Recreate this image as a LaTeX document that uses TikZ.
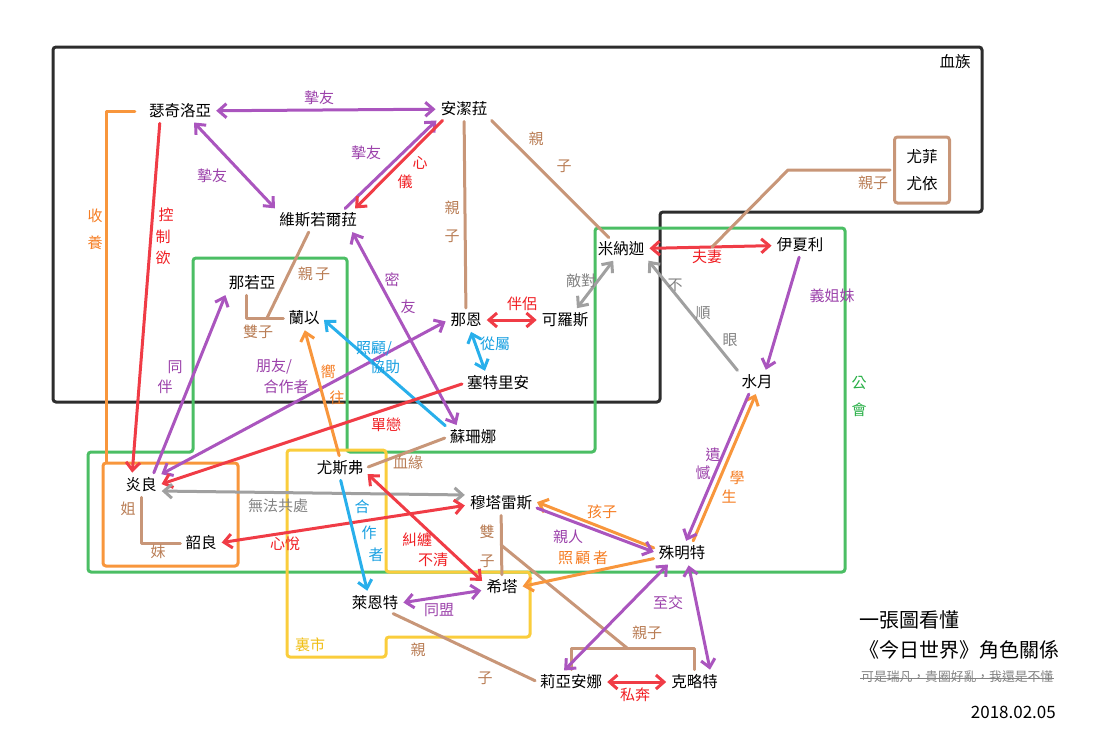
\documentclass[tikz,border=0pt]{standalone}
\usepackage{fontspec}
\setmainfont{Noto Sans CJK TC}
\usepackage{tikz}
\usepackage{xcolor}
\usetikzlibrary{arrows.meta, positioning, calc}

\definecolor{purpleL}{RGB}{170,85,190}
\definecolor{purpleT}{RGB}{155,65,170}
\definecolor{redL}{RGB}{240,60,70}
\definecolor{redT}{RGB}{240,30,35}
\definecolor{orangeL}{RGB}{248,150,60}
\definecolor{orangeT}{RGB}{245,125,35}
\definecolor{brownL}{RGB}{200,150,120}
\definecolor{brownT}{RGB}{185,125,85}
\definecolor{blueL}{RGB}{40,175,235}
\definecolor{blueT}{RGB}{25,160,225}
\definecolor{grayL}{RGB}{160,160,160}
\definecolor{grayT}{RGB}{130,130,130}
\definecolor{greenL}{RGB}{75,190,100}
\definecolor{greenT}{RGB}{40,175,70}
\definecolor{yellowL}{RGB}{250,205,60}
\definecolor{yellowT}{RGB}{240,190,20}
\definecolor{blackL}{RGB}{45,45,45}

\begin{document}
\begin{tikzpicture}[
    x=1pt, y=-1pt,
    font=\fontsize{15.5}{18}\selectfont,
    >={Straight Barb[length=8pt, width=14pt]},
    person/.style={inner sep=2pt},
    lbl/.style={inner sep=1pt, text=#1, font=\fontsize{15}{18}\selectfont},
    link/.style={line width=3pt, line cap=round, line join=round, shorten <=3pt, shorten >=3pt},
    purpleline/.style={link, draw=purpleL},
    redline/.style={link, draw=redL},
    orangeline/.style={link, draw=orangeL},
    brownline/.style={link, draw=brownL},
    blueline/.style={link, draw=blueL},
    grayline/.style={link, draw=grayL},
    region/.style={line width=3pt, rounded corners=3pt},
    title/.style={inner sep=0pt, anchor=west, font=\fontsize{20}{24}\selectfont},
    strike/.style={path picture={\draw[grayT, line width=0.8pt]
        ([yshift=-1pt]path picture bounding box.west) -- ([yshift=-1pt]path picture bounding box.east);}}
]
\useasboundingbox (0,0) rectangle (1102,734);

% 1. REGIONS
\draw[region, draw=blackL] (53,47) -- (982,47) -- (982,212) -- (660,212) -- (660,402) -- (53,402) -- cycle;
\draw[region, draw=greenL] (88,452) -- (193,452) -- (193,258) -- (347,258) -- (347,452) -- (595,452)
    -- (595,228) -- (845,228) -- (845,572) -- (88,572) -- cycle;
\draw[region, draw=yellowL] (287,450) -- (386,450) -- (386,572) -- (530,572) -- (530,637)
    -- (386,637) -- (386,657) -- (287,657) -- cycle;
\node[draw=orangeL, line width=3pt, rounded corners=3pt, minimum width=135pt, minimum height=103pt] (sibbox) at (170.5,514.5) {};

\node[inner sep=0pt] (tBlood) at (955,62) {血族};
\node[lbl=greenT] (tGuild1) at (859,383) {公};
\node[lbl=greenT] (tGuild2) at (859,410) {會};
\node[lbl=yellowT] (tMarket) at (310,645) {裏市};

% 2. NODES
\node[person] (seqi) at (180,111) {瑟奇洛亞};
\node[person] (anjie) at (464,109) {安潔菈};
\node[person] (weisi) at (318,220) {維斯若爾菈};
\node[person] (naruo) at (252,283) {那若亞};
\node[person] (lanyi) at (304,318) {蘭以};
\node[person] (naen) at (466,320) {那恩};
\node[person, right=56pt of naen] (keluo) {可羅斯};
\node[person] (saite) at (498,383) {塞特里安};
\node[person] (sushan) at (473,437) {蘇珊娜};
\node[person] (mina) at (621,249) {米納迦};
\node[person] (yixia) at (800,245) {伊夏利};
\node[person, draw=brownL, line width=3pt, rounded corners=3pt, align=center,
      minimum width=55pt, minimum height=66pt, font=\fontsize{15.5}{27}\selectfont] (youfei) at (922,170) {尤菲\\尤依};
\node[person] (shuiyue) at (757,382) {水月};
\node[person] (yanliang) at (141,485) {炎良};
\node[person] (shaoliang) at (201,543) {韶良};
\node[person] (yousi) at (340,468) {尤斯弗};
\node[person] (muta) at (501,503) {穆塔雷斯};
\node[person] (shuming) at (682,553) {殊明特};
\node[person] (xita) at (502,587) {希塔};
\node[person] (laien) at (375,603) {萊恩特};
\node[person] (liya) at (571,682) {莉亞安娜};
\node[person, right=65pt of liya] (kelue) {克略特};

\coordinate (twinsA) at (267,318);
\coordinate (twinsB) at (501,545);
\coordinate (kidsTop) at (627,648);
\coordinate (couple) at (712,247);

% 3. ARROWS
\draw[purpleline, <->] (seqi) -- (anjie);
\draw[purpleline, <->] ([xshift=12pt]seqi.south) -- (weisi.north west);
\draw[purpleline, ->] ([xshift=-16pt]weisi.north east) -- (anjie.south west);
\draw[redline, ->] ([xshift=6pt]anjie.south west) -- ([xshift=-6pt]weisi.north east);
\draw[redline, ->] ([xshift=-20pt]seqi.south) -- ([xshift=-9pt]yanliang.north);
\draw[orangeline, shorten <=12pt, shorten >=0pt] (seqi.west) -| ([xshift=5pt]sibbox.north west);
\draw[brownline] (anjie) -- (naen);
\draw[brownline] (anjie.south east) -- ([xshift=-10pt]mina.north);
\draw[brownline] ([xshift=-6pt]naruo.south) |- (lanyi.west);
\draw[brownline, shorten >=0pt] ([xshift=-8pt]weisi.south) -- (twinsA);
\draw[purpleline, <->] ([xshift=-8pt]weisi.south east) -- ([xshift=-15pt]sushan.north);
\draw[purpleline, ->] ([xshift=-6pt]yanliang.north east) -- (naruo.south west);
\draw[purpleline, <->] (yanliang.north east) -- (naen.west);
\draw[orangeline, ->] (yousi.north) -- (lanyi.south);
\draw[blueline, ->] (sushan.north west) -- (lanyi.east);
\draw[redline, ->] (saite.west) -- (yanliang.east);
\draw[redline, <->] (naen) -- (keluo);
\draw[blueline, <->] ([xshift=4pt]naen.south) -- ([xshift=-12pt]saite.north);
\draw[grayline, <->] ([xshift=10pt]keluo.north) -- ([xshift=-6pt]mina.south);
\draw[grayline, ->] (shuiyue.north west) -- (mina.south east);
\draw[redline, <->] (mina) -- (yixia);
\draw[brownline, shorten >=0pt] (youfei.west) -- ++(-105,0) -- (couple);
\draw[purpleline, ->] (yixia.south) -- ([xshift=8pt]shuiyue.north);
\draw[orangeline, ->] ([xshift=10pt]shuming.north) -- (shuiyue.south);
\draw[purpleline, ->] ([xshift=-7pt]shuiyue.south) -- ([xshift=3pt]shuming.north);
\draw[brownline] (sushan.west) -- (yousi.east);
\draw[grayline, <->] ([yshift=-6pt]yanliang.east) -- ([yshift=8pt]muta.west);
\draw[redline, <->] ([yshift=-2pt]muta.west) -- (shaoliang.east);
\draw[brownline] (yanliang.south) |- (shaoliang.west);
\draw[blueline, ->] (yousi.south) -- ([xshift=-7pt]laien.north);
\draw[redline, <->] ([yshift=-4pt]yousi.east) -- ([yshift=4pt]xita.west);
\draw[purpleline, <->] (laien.east) -- ([yshift=-3pt]xita.west);
\draw[brownline] (muta) -- (xita);
\draw[brownline, shorten <=0pt, shorten >=0pt] (twinsB) -- (kidsTop);
\draw[brownline] (liya.north) -- ++(0,-24) -| (kelue.north);
\draw[brownline] ([xshift=-10pt]laien.south east) -- (liya.west);
\draw[orangeline, ->] ([yshift=4pt]shuming.west) -- ([yshift=2pt]muta.east);
\draw[purpleline, ->] ([yshift=-4pt]muta.east) -- (shuming.west);
\draw[orangeline, ->] ([yshift=-5pt]shuming.west) -- (xita.east);
\draw[purpleline, <->] ([xshift=-12pt]shuming.south) -- ([xshift=-9pt]liya.north);
\draw[purpleline, <->] ([xshift=6pt]shuming.south) -- ([xshift=16pt]kelue.north);
\draw[redline, <->] (liya) -- (kelue);

% 4. LABELS
\node[lbl=purpleT] (tFriendA) at (319,98) {摯友};
\node[lbl=purpleT] (tFriendB) at (212,176) {摯友};
\node[lbl=purpleT] (tFriendC) at (366,153) {摯友};
\node[lbl=redT] (tLoveA1) at (420,163) {心};
\node[lbl=redT] (tLoveA2) at (405,182) {儀};
\node[lbl=orangeT] (tAdopt1) at (95,216) {收};
\node[lbl=orangeT] (tAdopt2) at (95,243) {養};
\node[lbl=redT] (tCtrl1) at (166,215) {控};
\node[lbl=redT] (tCtrl2) at (163,237) {制};
\node[lbl=redT] (tCtrl3) at (163,258) {欲};
\node[lbl=brownT] (tParA1) at (452,208) {親};
\node[lbl=brownT] (tParA2) at (452,236) {子};
\node[lbl=brownT] (tParB1) at (536,139) {親};
\node[lbl=brownT] (tParB2) at (564,166) {子};
\node[lbl=brownT] (tParC) at (314,274) {親\,子};
\node[lbl=brownT] (tTwinA) at (258,332) {雙子};
\node[lbl=purpleT] (tClose1) at (392,280) {密};
\node[lbl=purpleT] (tClose2) at (408,307) {友};
\node[lbl=purpleT] (tMate1) at (175,367) {同};
\node[lbl=purpleT] (tMate2) at (165,387) {伴};
\node[lbl=purpleT] (tPartner1) at (274,367) {朋友/};
\node[lbl=purpleT] (tPartner2) at (286,387) {合作者};
\node[lbl=orangeT] (tYearn1) at (328,372) {嚮};
\node[lbl=orangeT] (tYearn2) at (337,398) {往};
\node[lbl=blueT] (tCare1) at (374,349) {照顧/};
\node[lbl=blueT] (tCare2) at (385,367) {協助};
\node[lbl=redT] (tCrush) at (386,425) {單戀};
\node[lbl=redT] (tCouple) at (522,304) {伴侶};
\node[lbl=blueT] (tServe) at (495,344) {從屬};
\node[lbl=grayT] (tFoe) at (581,281) {敵對};
\node[lbl=grayT] (tDislike1) at (675,285) {不};
\node[lbl=grayT] (tDislike2) at (703,313) {順};
\node[lbl=grayT] (tDislike3) at (730,340) {眼};
\node[lbl=redT] (tSpouse) at (707,257) {夫妻};
\node[lbl=brownT] (tParD) at (873,183) {親子};
\node[lbl=purpleT] (tSister) at (832,296) {義姐妹};
\node[lbl=purpleT] (tRegret1) at (713,455) {遺};
\node[lbl=purpleT] (tRegret2) at (703,473) {憾};
\node[lbl=orangeT] (tPupil1) at (737,478) {學};
\node[lbl=orangeT] (tPupil2) at (729,497) {生};
\node[lbl=brownT] (tBloodline) at (408,463) {血緣};
\node[lbl=grayT] (tApart) at (278,506) {無法共處};
\node[lbl=redT] (tLoveB) at (285,544) {心悅};
\node[lbl=brownT] (tElder) at (128,509) {姐};
\node[lbl=brownT] (tYounger) at (158,552) {妹};
\node[lbl=blueT] (tCoop1) at (362,507) {合};
\node[lbl=blueT] (tCoop2) at (369,533) {作};
\node[lbl=blueT] (tCoop3) at (376,555) {者};
\node[lbl=redT] (tTangle1) at (417,540) {糾纏};
\node[lbl=redT] (tTangle2) at (433,560) {不清};
\node[lbl=purpleT] (tAlly) at (439,610) {同盟};
\node[lbl=brownT] (tTwinB1) at (487,532) {雙};
\node[lbl=brownT] (tTwinB2) at (487,561) {子};
\node[lbl=orangeT] (tChild) at (602,512) {孩子};
\node[lbl=purpleT] (tKin) at (568,537) {親人};
\node[lbl=orangeT] (tGuard) at (583,558) {照\,顧\,者};
\node[lbl=purpleT] (tBosom) at (668,603) {至交};
\node[lbl=brownT] (tParE) at (647,633) {親子};
\node[lbl=brownT] (tParF1) at (418,650) {親};
\node[lbl=brownT] (tParF2) at (485,678) {子};
\node[lbl=redT] (tElope) at (635,695) {私奔};

% 5. TITLE
\node[title] (head1) at (859,620) {一張圖看懂};
\node[title] (head2) at (859,650) {《今日世界》角色關係};
\node[title, strike, inner sep=1pt, text=grayT, font=\fontsize{12.8}{15}\selectfont] (head3) at (860,677) {可是瑞凡，貴圈好亂，我還是不懂};
\node[inner sep=0pt, anchor=east, font=\fontsize{17}{20}\selectfont] (date) at (1056,712) {2018.02.05};

\end{tikzpicture}
\end{document}
